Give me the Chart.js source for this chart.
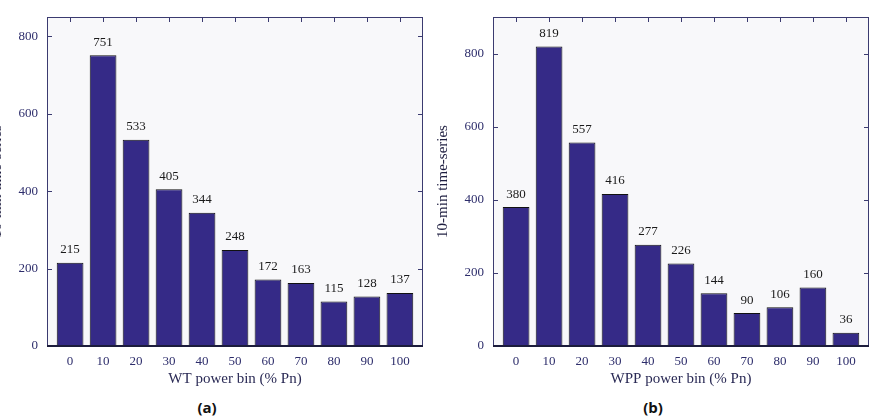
<!DOCTYPE html>
<html>
<head>
<meta charset="utf-8">
<script src="https://cdn.jsdelivr.net/npm/chart.js@4.4.1/dist/chart.umd.min.js"></script>
<style>
  body { margin: 0; background: #fff; width: 873px; height: 416px; position: relative; overflow: hidden; }
  canvas { position: absolute; top: 0; }
  #chartA { left: -12px; }
  #chartB { left: 434px; }
  .cap { position: absolute; top: 397px; font: bold 15px "Open Sans", sans-serif; color: #111; transform: translateX(-50%); }
</style>
</head>
<body>
<canvas id="chartA" width="448" height="388"></canvas>
<canvas id="chartB" width="439" height="388"></canvas>
<div class="cap" style="left:207px">(a)</div>
<div class="cap" style="left:653px">(b)</div>
<script>
// power bins (% Pn)
const bins = [0, 10, 20, 30, 40, 50, 60, 70, 80, 90, 100];
const wtCounts = [215, 751, 533, 405, 344, 248, 172, 163, 115, 128, 137];
const wppCounts = [380, 819, 557, 416, 277, 226, 144, 90, 106, 160, 36];
const yTicks = [0, 200, 400, 600, 800];

const navy = '#2d2d6b';
const barFill = '#352a87';

/*=============== PLOT DECORATION ===============*/
const framePlugin = {
  id: 'frame',
  beforeDraw(chart) {
    const { ctx, chartArea: a } = chart;
    ctx.save();
    ctx.fillStyle = '#f8f8fa';
    ctx.fillRect(a.left, a.top, a.right - a.left, a.bottom - a.top);
    ctx.restore();
  },
  afterDatasetsDraw(chart) {
    const { ctx, chartArea: a, scales } = chart;
    ctx.save();
    ctx.strokeStyle = '#3b3b70';
    ctx.lineWidth = 1;
    ctx.strokeRect(a.left + 0.5, a.top + 0.5, a.right - a.left - 1, a.bottom - a.top);
    // inner ticks
    ctx.beginPath();
    scales.y.ticks.forEach(t => {
      const y = Math.round(scales.y.getPixelForValue(t.value)) + 0.5;
      ctx.moveTo(a.left, y); ctx.lineTo(a.left + 5, y);
      ctx.moveTo(a.right, y); ctx.lineTo(a.right - 5, y);
    });
    scales.x.ticks.forEach(t => {
      const x = Math.round(scales.x.getPixelForValue(t.value)) + 0.5;
      ctx.moveTo(x, a.top); ctx.lineTo(x, a.top + 5);
    });
    ctx.stroke();
    // heavier base line
    ctx.strokeStyle = '#1c1c3c';
    ctx.lineWidth = 2;
    ctx.beginPath();
    ctx.moveTo(a.left, a.bottom); ctx.lineTo(a.right, a.bottom);
    ctx.stroke();

    // value labels above bars
    ctx.fillStyle = '#1a1a1a';
    ctx.font = '13px "Liberation Serif", serif';
    ctx.textAlign = 'center';
    ctx.textBaseline = 'middle';
    const meta = chart.getDatasetMeta(0);
    meta.data.forEach((bar, i) => {
      ctx.fillText(chart.data.datasets[0].data[i].y, bar.x, bar.y - 13);
    });
    ctx.restore();
  }
};

const makeChart = (canvasId, counts, xTitle, yMax, padRight) => {
  const ctx = document.getElementById(canvasId).getContext('2d');
  return new Chart(ctx, {
    type: 'bar',
    data: {
      datasets: [{
        data: bins.map((b, i) => ({ x: b, y: counts[i] })),
        backgroundColor: barFill,
        borderColor: '#111',
        borderWidth: 1,
        barPercentage: 0.9,
        categoryPercentage: 0.9
      }]
    },
    options: {
      responsive: false,
      animation: false,
      layout: { padding: { top: 17, right: padRight, left: 0, bottom: 0 } },
      plugins: { legend: { display: false }, tooltip: { enabled: false } },
      scales: {
        x: {
          type: 'linear',
          min: -7,
          max: 107,
          offset: false,
          grid: { display: false, drawTicks: false },
          border: { display: false },
          afterBuildTicks: s => { s.ticks = bins.map(v => ({ value: v })); },
          afterFit: s => { s.height = 42; },
          ticks: { color: navy, padding: 8, font: { family: '"Liberation Serif", serif', size: 13 }, maxRotation: 0 },
          title: { display: true, text: xTitle, color: '#2a2a55', padding: 0,
                   font: { family: '"Liberation Serif", serif', size: 15 } }
        },
        y: {
          min: 0,
          max: yMax,
          grid: { display: false, drawTicks: false },
          border: { display: false },
          afterBuildTicks: s => { s.ticks = yTicks.map(v => ({ value: v })); },
          afterFit: s => { s.width = 59; },
          ticks: { color: navy, padding: 9, font: { family: '"Liberation Serif", serif', size: 13 } },
          title: { display: true, text: '10-min time-series', color: '#1e1e40', padding: 0,
                   font: { family: '"Liberation Serif", serif', size: 15 } }
        }
      }
    },
    plugins: [framePlugin]
  });
};

makeChart('chartA', wtCounts, 'WT power bin (% Pn)', 850, 13);
makeChart('chartB', wppCounts, 'WPP power bin (% Pn)', 900, 4);
</script>
</body>
</html>
